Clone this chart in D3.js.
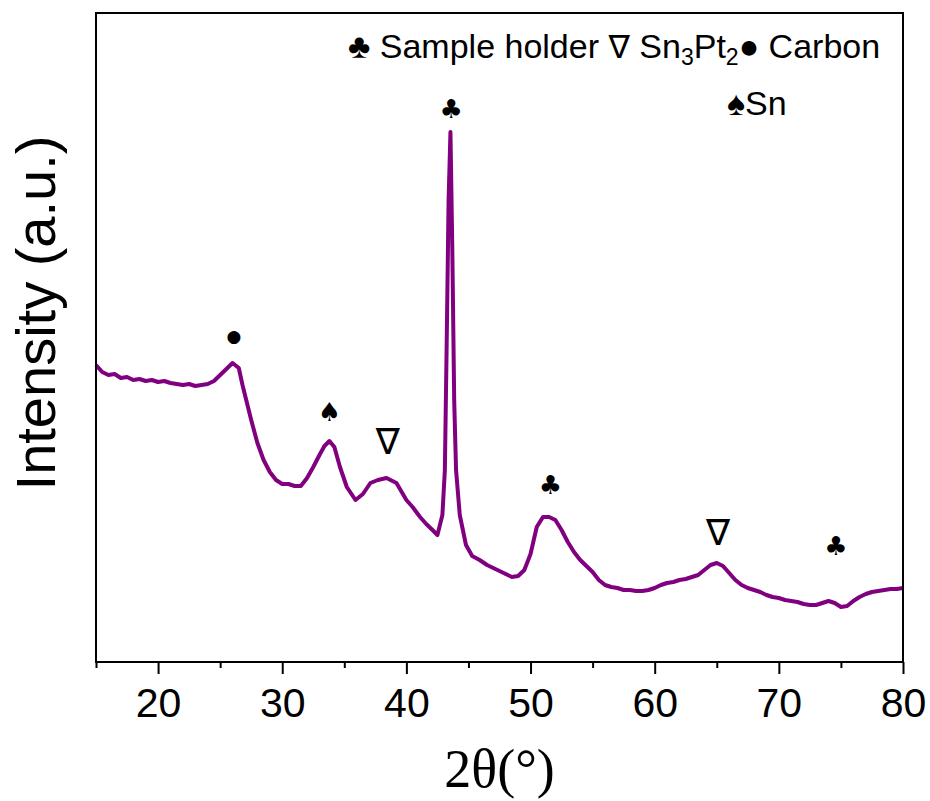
<!DOCTYPE html>
<html>
<head>
<meta charset="utf-8">
<script src="https://cdn.jsdelivr.net/npm/d3@7"></script>
<style>
  body { margin: 0; background: #fff; }
  svg { display: block; }
</style>
</head>
<body>
<svg id="chart" width="930" height="801"></svg>
<script>
// XRD pattern, 2theta (deg) vs intensity (a.u.)
const twoTheta = [
  15.0, 15.5, 16.0, 16.5, 17.0, 17.5, 18.0, 18.5, 19.0, 19.5,
  20.0, 20.5, 21.0, 21.5, 22.0, 22.5, 23.0, 23.5, 24.0, 24.5,
  25.0, 25.5, 26.0, 26.5, 26.8, 27.2, 27.5, 28.0, 28.5, 29.0,
  29.5, 30.0, 30.5, 31.0, 31.5, 32.0, 32.5, 33.0, 33.4, 33.8,
  34.2, 34.65, 35.2, 35.9, 36.5, 37.1, 37.7, 38.4, 39.2, 40.0,
  40.5, 41.1, 41.6, 42.1, 42.5, 42.9, 43.1, 43.25, 43.4, 43.55,
  43.7, 43.85, 44.0, 44.3, 44.8, 45.3, 45.9, 46.5, 47.0, 47.5,
  48.0, 48.5, 49.0, 49.5, 50.0, 50.5, 51.0, 51.5, 52.0, 52.5,
  53.0, 53.5, 54.0, 54.5, 55.0, 55.5, 56.0, 56.5, 57.0, 57.5,
  58.0, 58.5, 59.0, 59.5, 60.0, 60.5, 61.0, 61.5, 62.0, 62.5,
  63.0, 63.5, 64.0, 64.5, 65.0, 65.5, 66.0, 66.5, 67.0, 67.5,
  68.0, 68.5, 69.0, 69.5, 70.0, 70.5, 71.0, 71.5, 72.0, 72.5,
  73.0, 73.5, 74.0, 74.5, 75.0, 75.5, 76.0, 76.5, 77.0, 77.5,
  78.0, 78.5, 79.0, 79.5, 80.0
];
const intensity = [
  297, 290, 287, 288, 284, 285, 282, 283, 281, 282,
  280, 281, 279, 278, 277, 278, 276, 277, 278, 281,
  287, 293, 299, 294, 277, 257, 242, 219, 202, 190,
  182, 178, 178, 176, 176, 184, 195, 207, 216, 221,
  215, 195, 175, 162, 168, 179, 182, 184, 179, 162,
  155, 145, 138, 132, 127, 147, 192, 322, 462, 530,
  412, 262, 192, 147, 117, 106, 102, 97, 94, 91,
  88, 85, 86, 92, 108, 135, 145, 145, 142, 132,
  120, 110, 102, 96, 90, 82, 77, 75, 74, 72,
  72, 71, 71, 72, 74, 77, 79, 80, 82, 83,
  85, 87, 92, 97, 99, 96, 89, 82, 77, 74,
  72, 70, 67, 65, 64, 62, 61, 60, 58, 57,
  57, 59, 61, 59, 55, 56, 61, 65, 68, 70,
  71, 72, 73, 73, 74
];

// peak markers above the pattern
const markerSymbols = ["\u25CF", "\u2660", "\u2207", "\u2663", "\u2663", "\u2207", "\u2663"];
const markerAngles = [26.1, 33.8, 38.5, 43.6, 51.6, 65.1, 74.6];
const markerLevels = [326, 250, 221, 553, 177, 130, 116];

const xTicks = [20, 30, 40, 50, 60, 70, 80];
const xMinorTicks = [15, 25, 35, 45, 55, 65, 75];

const width = 930, height = 801;
const margin = {top: 13, right: 27, bottom: 139, left: 96};

const svg = d3.select("#chart");

const x = d3.scaleLinear().domain([15, 80]).range([margin.left, width - margin.right]);
const y = d3.scaleLinear().domain([0, 649]).range([height - margin.bottom, margin.top]);

const data = twoTheta.map((t, i) => ({t: t, v: intensity[i]}));

const line = d3.line()
  .x(d => x(d.t))
  .y(d => y(d.v));

svg.append("path")
  .datum(data)
  .attr("fill", "none")
  .attr("stroke", "#800080")
  .attr("stroke-width", 4)
  .attr("stroke-linejoin", "round")
  .attr("d", line);

// frame
svg.append("rect")
  .attr("x", margin.left)
  .attr("y", margin.top)
  .attr("width", width - margin.left - margin.right)
  .attr("height", height - margin.top - margin.bottom)
  .attr("fill", "none")
  .attr("stroke", "#000")
  .attr("stroke-width", 2);

// x axis, major ticks with labels
const xAxis = svg.append("g")
  .attr("transform", `translate(0, ${height - margin.bottom})`)
  .call(d3.axisBottom(x).tickValues(xTicks).tickSize(12).tickPadding(14).tickFormat(d3.format("d")));
xAxis.select(".domain").remove();
xAxis.selectAll(".tick line").attr("stroke-width", 2);
xAxis.selectAll(".tick text")
  .attr("font-family", "Liberation Sans, Arial, sans-serif")
  .attr("font-size", 41)
  .attr("fill", "#000");

// minor ticks
const xMinor = svg.append("g")
  .attr("transform", `translate(0, ${height - margin.bottom})`)
  .call(d3.axisBottom(x).tickValues(xMinorTicks).tickSize(6).tickFormat(""));
xMinor.select(".domain").remove();
xMinor.selectAll(".tick line").attr("stroke-width", 2);

// axis titles
svg.append("text")
  .attr("x", (margin.left + width - margin.right) / 2)
  .attr("y", 787)
  .attr("text-anchor", "middle")
  .attr("font-family", "Liberation Serif, Times New Roman, serif")
  .attr("font-size", 54)
  .text("2\u03B8(\u00B0)");

svg.append("text")
  .attr("transform", "translate(55, 313) rotate(-90)")
  .attr("text-anchor", "middle")
  .attr("font-family", "Liberation Sans, Arial, sans-serif")
  .attr("font-size", 56)
  .text("Intensity (a.u.)");

// peak markers
const markerSize = {"\u25CF": 17, "\u2207": 36};
svg.selectAll(".marker")
  .data(markerSymbols)
  .enter()
  .append("text")
  .attr("class", "marker")
  .attr("x", (d, i) => x(markerAngles[i]))
  .attr("y", (d, i) => y(markerLevels[i]))
  .attr("text-anchor", "middle")
  .attr("dominant-baseline", "central")
  .attr("font-family", "DejaVu Sans, sans-serif")
  .attr("font-size", d => markerSize[d] || 26)
  .text(d => d);

// legend
const legend = svg.append("text")
  .attr("x", 348)
  .attr("y", 58)
  .attr("font-family", "Liberation Sans, Arial, sans-serif")
  .attr("font-size", 34);
legend.append("tspan").text("\u2663 Sample holder ");
legend.append("tspan").attr("font-family", "DejaVu Sans, sans-serif").attr("font-size", 32).text("\u2207");
legend.append("tspan").text(" Sn");
legend.append("tspan").attr("font-size", 23).attr("dy", 7).text("3");
legend.append("tspan").attr("dy", -7).text("Pt");
legend.append("tspan").attr("font-size", 23).attr("dy", 7).text("2");
legend.append("tspan").attr("dy", -7).text("\u25CF Carbon");

svg.append("text")
  .attr("x", 727)
  .attr("y", 115)
  .attr("font-family", "Liberation Sans, Arial, sans-serif")
  .attr("font-size", 34)
  .text("\u2660Sn");
</script>
</body>
</html>
